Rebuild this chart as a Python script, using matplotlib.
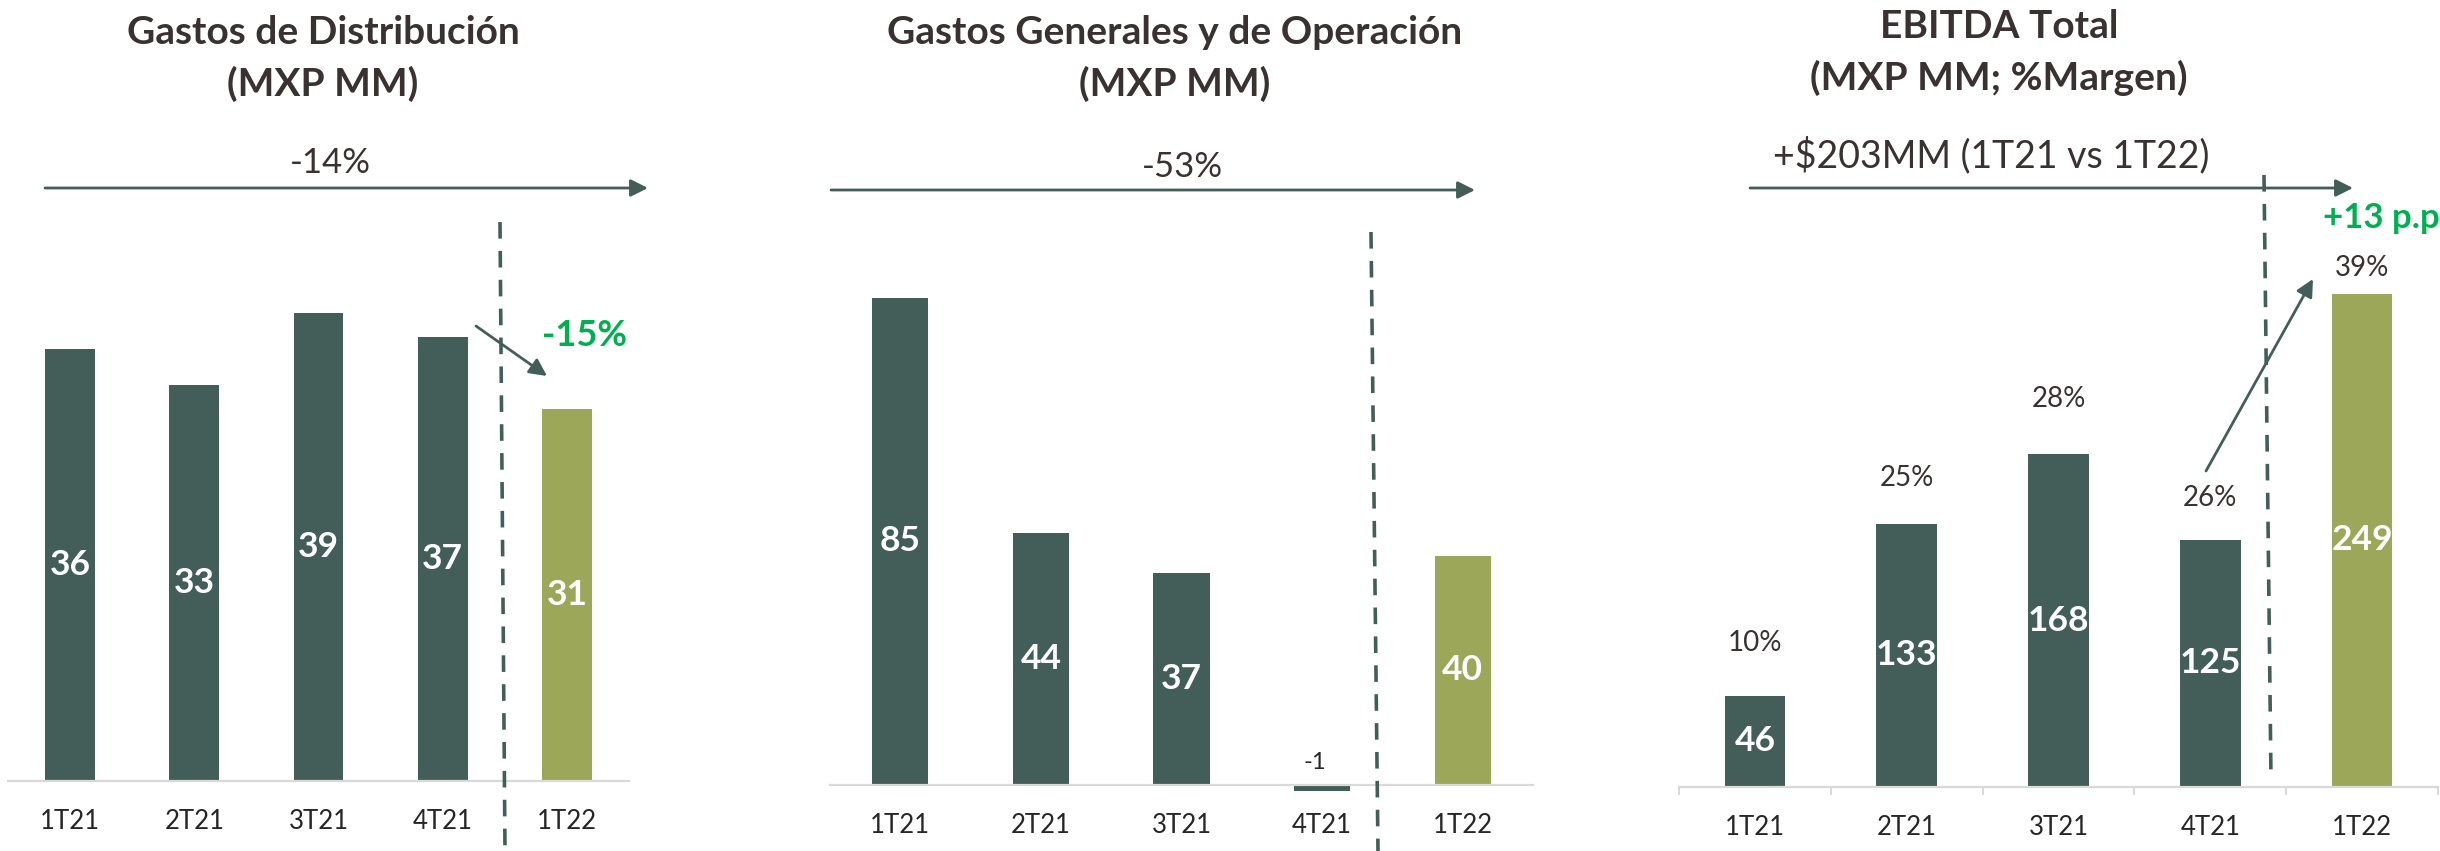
import matplotlib
matplotlib.use("Agg")
import matplotlib.pyplot as plt
from matplotlib.lines import Line2D

W, H = 2440, 851
DARK = "#435E59"
OLIVE = "#9CA75A"
GREEN = "#00B050"
TITLE = "#3A3131"
TEXT = "#262626"
AXIS = "#D9D9D9"

quarters = ["1T21", "2T21", "3T21", "4T21", "1T22"]
dist_values = [36, 33, 39, 37, 31]
gyo_values = [85, 44, 37, -1, 40]
ebitda_values = [46, 133, 168, 125, 249]
ebitda_margin = ["10%", "25%", "28%", "26%", "39%"]

plt.rcParams["font.family"] = ["Lato", "DejaVu Sans"]

fig = plt.figure(figsize=(W / 100, H / 100), dpi=100)
fig.patch.set_facecolor("white")


def fpx(x, y):
  # pixel position (from top-left) -> figure pixels
  return (x, H - y)


def ftext(x, y, s, **kw):
  fig.text(x / W, 1 - y / H, s, ha="center", va="center", **kw)


def farrow(x1, y1, x2, y2):
  fig.add_artist(plt.Annotation("", xy=fpx(x2, y2), xytext=fpx(x1, y1), xycoords="figure pixels",
                                arrowprops=dict(arrowstyle="-|>", color=DARK, lw=2.0, mutation_scale=26, shrinkA=0, shrinkB=0)))


def fdash(x1, y1, x2, y2):
  fig.add_artist(Line2D([x1 / W, x2 / W], [1 - y1 / H, 1 - y2 / H], transform=fig.transFigure,
                        color=DARK, lw=2.6, dashes=(4.6, 3.4)))


def panel(left, right, baseline, px_per_unit, values, boundary_ticks=False):
  ax = fig.add_axes([left / W, 0, (right - left) / W, 1])
  ax.set_xlim(-0.5, len(values) - 0.5)
  ax.set_ylim(-(H - baseline) / px_per_unit, baseline / px_per_unit)
  colors = [DARK] * (len(values) - 1) + [OLIVE]
  ax.bar(range(len(values)), values, width=0.4, color=colors, zorder=2)
  for s in ("top", "right", "left"):
    ax.spines[s].set_visible(False)
  ax.spines["bottom"].set_position(("data", 0))
  ax.spines["bottom"].set_color(AXIS)
  ax.spines["bottom"].set_linewidth(1.6)
  ax.set_yticks([])
  ax.set_xticks(range(len(values)))
  ax.set_xticklabels(quarters, fontsize=18.5, color=TEXT)
  ax.tick_params(axis="x", length=0, pad=20)
  if boundary_ticks:
    ax.set_xticks([i - 0.5 for i in range(len(values) + 1)], minor=True)
    ax.tick_params(axis="x", which="minor", length=6, width=1.4, color=AXIS)
  for i, v in enumerate(values):
    if v > 0:
      ax.text(i, v / 2, str(v), ha="center", va="center", fontsize=25.5, fontweight="bold", color="white", zorder=3)
    else:
      ax.annotate(str(v), (i, 0), xytext=(-5, 16), textcoords="offset points", ha="center", va="center",
                  fontsize=17, color=TEXT)
  return ax


# Gastos de Distribución
ax1 = panel(8, 629, 781, 12.0, dist_values)
ftext(323, 33, "Gastos de Distribución", fontsize=28, fontweight="bold", color=TITLE)
ftext(323, 84, "(MXP MM)", fontsize=28, fontweight="bold", color=TITLE)
ftext(330, 163, "-14%", fontsize=25, color=TITLE)
farrow(45, 188, 648, 188)
fdash(500, 222, 505, 851)
farrow(476, 326, 547, 376)
ftext(585, 336, "-15%", fontsize=26, fontweight="bold", color=GREEN)

# Gastos Generales y de Operación
ax2 = panel(830, 1533, 785, 5.73, gyo_values)
ftext(1175, 33, "Gastos Generales y de Operación", fontsize=28, fontweight="bold", color=TITLE)
ftext(1175, 84, "(MXP MM)", fontsize=28, fontweight="bold", color=TITLE)
ftext(1182, 167, "-53%", fontsize=25, color=TITLE)
farrow(831, 190, 1475, 190)
fdash(1371, 232, 1378, 851)

# EBITDA Total
ax3 = panel(1679, 2438, 787, 1.98, ebitda_values, boundary_ticks=True)
ftext(1999, 26, "EBITDA Total", fontsize=28, fontweight="bold", color=TITLE)
ftext(1999, 78, "(MXP MM; %Margen)", fontsize=28, fontweight="bold", color=TITLE)
ftext(1991, 155, "+$203MM (1T21 vs 1T22)", fontsize=27, color=TITLE)
farrow(1750, 188, 2353, 188)
fdash(2264, 175, 2271, 779)
farrow(2206, 471, 2313, 279)
fig.text(2323 / W, 1 - 218 / H, "+13 p.p", ha="left", va="center", fontsize=25, fontweight="bold", color=GREEN)

margin_pad = [38, 33, 40, 30, 19]
for i, (v, m) in enumerate(zip(ebitda_values, ebitda_margin)):
  ax3.annotate(m, (i, v), xytext=(0, margin_pad[i]), textcoords="offset points", ha="center", va="center",
               fontsize=20, color=TITLE)

fig.savefig("out.png", dpi=100, facecolor="white")
